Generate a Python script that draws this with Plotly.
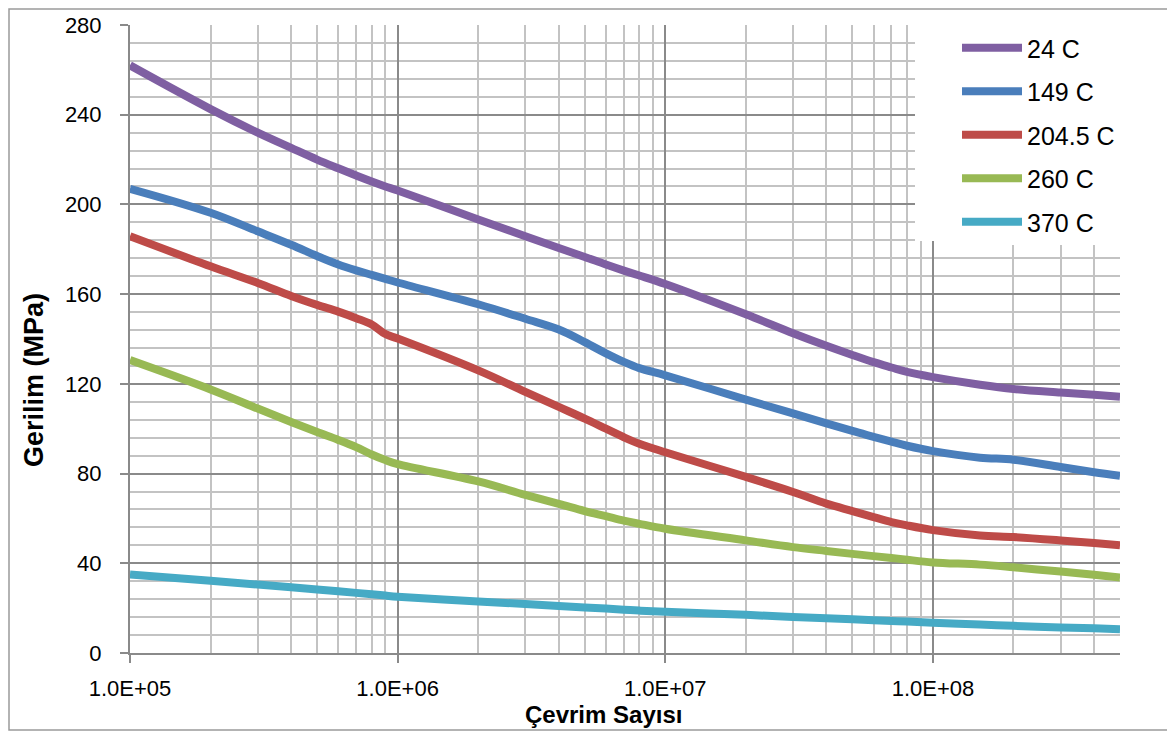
import plotly.graph_objects as go
import numpy as np

cycles = [1e5, 2e5, 3e5, 4e5, 5e5, 6e5, 7e5, 8e5, 9e5, 1e6,
          2e6, 3e6, 4e6, 5e6, 6e6, 7e6, 8e6, 1e7,
          2e7, 3e7, 4e7, 5e7, 6e7, 7e7, 8e7, 1e8,
          1.5e8, 2e8, 3e8, 4e8, 5e8]

s24   = [262, 242.5, 232, 225.2, 220, 216.1, 212.9, 210.2, 208, 206.2,
         193.3, 185.8, 180.6, 176.6, 173.2, 170.5, 168.3, 164.5,
         151, 142.6, 137, 132.9, 129.7, 127.3, 125.3, 123,
         119.6, 117.7, 116.1, 115.1, 114.3]
s149  = [207, 196.3, 188, 182, 177, 173.2, 170.6, 168.6, 166.8, 165.2,
         155.5, 149, 144.2, 138.6, 133.6, 129.8, 127, 123.8,
         113, 106.8, 102.4, 99, 96.4, 94.2, 92.4, 90,
         87.1, 86.2, 82.9, 80.6, 79]
s2045 = [185.8, 172.4, 165, 159.2, 155.2, 152.2, 149.3, 146.5, 142.2, 140.2,
         126, 116.4, 109.7, 104.5, 100, 96.2, 93.3, 89.5,
         78.5, 71.8, 66.6, 63.3, 60.6, 58.4, 56.9, 54.8,
         52.4, 51.7, 50.2, 49, 48]
s260  = [130.6, 117.5, 109, 103, 98.5, 95, 91.8, 88.5, 86, 84.2,
         76.5, 70.5, 66.5, 63.3, 61, 59, 57.6, 55.4,
         50.2, 47.2, 45.5, 44.2, 43.2, 42.4, 41.6, 40.4,
         39.4, 38.2, 36.3, 34.9, 33.7]
s370  = [35, 32.2, 30.5, 29.3, 28.3, 27.5, 26.8, 26.2, 25.6, 25.1,
         23, 21.8, 21, 20.3, 19.8, 19.3, 18.9, 18.4,
         17, 16.1, 15.5, 15, 14.6, 14.3, 14, 13.5,
         12.7, 12.1, 11.4, 11, 10.6]

names = ["24 C", "149 C", "204.5 C", "260 C", "370 C"]
series = [s24, s149, s2045, s260, s370]
colors = ["#7f5fa2", "#4a7ebb", "#be4b48", "#98b954", "#46aac5"]

y_ticks = [0, 40, 80, 120, 160, 200, 240, 280]
x_ticks = [1e5, 1e6, 1e7, 1e8]
x_ticklabels = ["1.0E+05", "1.0E+06", "1.0E+07", "1.0E+08"]
x_title = "Çevrim Sayısı"
y_title = "Gerilim (MPa)"

fig = go.Figure()
for i, (n, s, c) in enumerate(zip(names, series, colors)):
    fig.add_trace(go.Scatter(
        x=cycles, y=s, name=n, mode="lines",
        line=dict(color=c, width=8, shape="spline", smoothing=1.0),
        legendgroup=str(i),
    ))

W, H = 1167, 723
L, R, T, B = 122, 55, 17, 78
pw, ph = W - L - R, H - T - B

fig.update_layout(
    width=W, height=H,
    margin=dict(l=L, r=R, t=T, b=B, autoexpand=False),
    paper_bgcolor="white", plot_bgcolor="white",
    font=dict(family="Liberation Sans, Arial, sans-serif", color="black", size=22),
    showlegend=True,
    legend=dict(
        x=1.0, y=1.0, xanchor="right", yanchor="top",
        bgcolor="white", borderwidth=0,
        font=dict(size=25, color="black"),
        tracegroupgap=8,
        itemwidth=60,
    ),
    shapes=[
        dict(type="rect", xref="paper", yref="paper",
             x0=-(L - 1) / pw, x1=1 + (R - 1) / pw,
             y0=-(B - 1) / ph, y1=1 + (T - 1) / ph,
             line=dict(color="#9a9a9a", width=1.5), layer="below"),
        dict(type="rect", xref="paper", yref="paper",
             x0=(915 - 130) / pw, x1=1.0, y0=(653 - 241) / ph, y1=1.004,
             fillcolor="white", line=dict(width=0), layer="above"),
    ],
    annotations=[
        dict(text="<b>" + x_title + "</b>", xref="paper", yref="paper",
             x=(603 - 130) / pw, y=-(699 - 653) / ph, xanchor="center", yanchor="top",
             showarrow=False, font=dict(size=24, color="black")),
        dict(text="<b>" + y_title + "</b>", xref="paper", yref="paper",
             x=-(130 - 34) / pw, y=(653 - 380) / ph, xanchor="center", yanchor="middle",
             textangle=-90, showarrow=False, font=dict(size=27, color="black")),
    ],
)

fig.update_xaxes(
    type="log",
    range=[np.log10(1e5), np.log10(5e8)],
    tickvals=x_ticks, ticktext=x_ticklabels,
    showgrid=True, gridcolor="#8a8a8a", gridwidth=2,
    minor=dict(dtick="D1", showgrid=True, gridcolor="#c3c3c3", gridwidth=2),
    showline=True, linecolor="#8a8a8a", linewidth=2,
    ticks="outside", ticklen=8, tickcolor="#8a8a8a", tickwidth=2,
    ticklabelstandoff=7,
    tickfont=dict(size=22),
    automargin=False,
    zeroline=False,
)
fig.update_yaxes(
    range=[0, 280],
    tickvals=y_ticks,
    showgrid=True, gridcolor="#8a8a8a", gridwidth=2,
    minor=dict(dtick=8, showgrid=True, gridcolor="#c3c3c3", gridwidth=2),
    showline=True, linecolor="#8a8a8a", linewidth=2,
    ticks="outside", ticklen=8, tickcolor="#8a8a8a", tickwidth=2,
    ticklabelstandoff=14,
    tickfont=dict(size=22),
    automargin=False,
    zeroline=False,
)

fig.write_html("out.html")
